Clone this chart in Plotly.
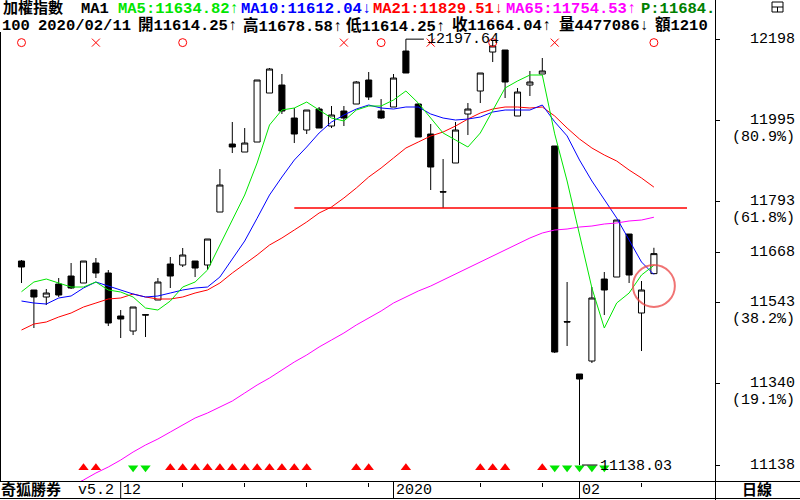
import plotly.graph_objects as go

W, H = 800, 500

# TAIEX daily candles, 2019-11-20 .. 2020-02-11
dates = [
    "2019-11-20", "2019-11-21", "2019-11-22", "2019-11-25", "2019-11-26", "2019-11-27", "2019-11-28", "2019-11-29",
    "2019-12-02", "2019-12-03", "2019-12-04", "2019-12-05", "2019-12-06", "2019-12-09", "2019-12-10", "2019-12-11",
    "2019-12-12", "2019-12-13", "2019-12-16", "2019-12-17", "2019-12-18", "2019-12-19", "2019-12-20", "2019-12-23",
    "2019-12-24", "2019-12-25", "2019-12-26", "2019-12-27", "2019-12-30", "2019-12-31",
    "2020-01-02", "2020-01-03", "2020-01-06", "2020-01-07", "2020-01-08", "2020-01-09", "2020-01-10", "2020-01-13",
    "2020-01-14", "2020-01-15", "2020-01-16", "2020-01-17", "2020-01-20", "2020-01-30", "2020-01-31",
    "2020-02-03", "2020-02-04", "2020-02-05", "2020-02-06", "2020-02-07", "2020-02-10", "2020-02-11",
]
opens = [
    11645.6, 11573.5, 11556.1, 11588.4, 11608.3, 11590.9, 11640.7, 11615.8, 11508.8, 11471.5,
    11512.0, 11548.6, 11638.2, 11635.7, 11645.6, 11635.7, 11767.5, 11936.7, 11916.8, 11941.7,
    12063.6, 12083.5, 12001.4, 11971.6, 12023.8, 11981.5, 12018.8, 12036.2, 12096.0, 12018.8,
    12028.8, 12168.1, 12036.2, 11961.6, 11818.0, 11889.5, 12011.4, 12068.6, 12165.6, 12170.6,
    12006.4, 12083.5, 12110.9, 11931.8, 11495.0, 11364.5, 11396.8, 11600.8, 11605.8, 11712.8,
    11516.3, 11614.25,
]
highs = [
    11648.1, 11573.5, 11576.0, 11603.3, 11640.7, 11645.6, 11653.1, 11623.2, 11523.7, 11531.2,
    11512.0, 11603.3, 11655.6, 11678.0, 11645.6, 11700.4, 11874.5, 11991.5, 11976.5, 12096.0,
    12125.8, 12110.9, 12026.3, 12021.3, 12028.8, 12031.3, 12031.3, 12093.5, 12115.9, 12048.7,
    12110.9, 12197.64, 12038.7, 11986.5, 11899.4, 11991.5, 12038.7, 12113.4, 12195.5, 12170.6,
    12076.1, 12118.4, 12150.7, 11931.8, 11593.4, 11364.5, 11580.9, 11618.3, 11747.6, 11712.8,
    11595.9, 11678.58,
]
lows = [
    11590.9, 11478.9, 11536.2, 11556.1, 11576.0, 11590.9, 11603.3, 11483.9, 11454.1, 11461.5,
    11456.5, 11548.6, 11578.5, 11630.7, 11605.8, 11623.2, 11767.5, 11914.3, 11916.8, 11941.7,
    12063.6, 12011.4, 11939.2, 11961.6, 11976.5, 11976.5, 11981.5, 12036.2, 12046.2, 11998.9,
    12028.8, 12113.4, 11954.1, 11822.3, 11777.5, 11889.5, 11959.1, 12038.7, 12140.7, 12051.2,
    12006.4, 12056.2, 12110.9, 11416.7, 11434.2, 11138.03, 11391.9, 11511.3, 11605.8, 11590.9,
    11421.7, 11614.25,
]
closes = [
    11630.7, 11556.1, 11566.0, 11561.0, 11578.5, 11645.6, 11615.8, 11491.4, 11501.3, 11531.2,
    11511.3, 11593.4, 11608.3, 11660.6, 11628.2, 11700.4, 11834.7, 11929.3, 11939.2, 12096.0,
    12123.3, 12018.8, 11961.6, 12021.3, 11976.5, 12008.9, 12001.4, 12091.0, 12053.7, 12001.4,
    12100.9, 12113.4, 11954.1, 11879.5, 11817.3, 11971.6, 12023.8, 12113.4, 12180.6, 12091.0,
    12066.1, 12091.0, 12118.4, 11419.2, 11493.9, 11352.0, 11553.6, 11573.5, 11747.6, 11610.8,
    11573.5, 11664.04,
]

# moving averages as drawn on the chart
ma5 = [
    11569.3, 11593.4, 11600.8, 11590.9, 11580.9, 11580.9, 11593.4, 11573.5, 11568.5, 11556.1,
    11528.7, 11523.7, 11546.1, 11580.9, 11593.4, 11623.2, 11685.4, 11747.6, 11809.8, 11889.5,
    11984.0, 12021.3, 12026.3, 12041.2, 12021.3, 12001.4, 11994.0, 12021.3, 12031.3, 12031.3,
    12046.2, 12068.6, 12038.7, 12001.4, 11964.1, 11946.7, 11929.3, 11964.1, 12021.3, 12076.1,
    12093.5, 12108.4, 12108.4, 11962.0, 11844.7, 11707.8, 11578.5, 11478.9, 11541.1, 11566.0,
    11610.8, 11634.82,
]
ma10 = [
    11546.1, 11541.1, 11538.6, 11553.6, 11558.6, 11578.5, 11593.4, 11583.4, 11573.5, 11563.5,
    11556.1, 11558.6, 11566.0, 11573.5, 11578.5, 11580.9, 11605.8, 11650.6, 11695.4, 11752.0,
    11809.8, 11854.6, 11896.9, 11929.3, 11964.1, 11991.5, 12008.9, 12023.8, 12033.8, 12026.3,
    12023.8, 12028.8, 12028.8, 12011.4, 12001.4, 11996.4, 11998.9, 12003.9, 12016.3, 12021.3,
    12021.3, 12021.3, 12033.8, 11992.0, 11956.9, 11896.9, 11844.7, 11797.4, 11752.6, 11697.9,
    11643.1, 11612.04,
]
ma21 = [
    11474.0, 11488.9, 11493.9, 11506.3, 11516.3, 11531.2, 11541.1, 11551.1, 11553.6, 11563.5,
    11556.1, 11551.1, 11551.1, 11556.1, 11566.0, 11573.5, 11590.9, 11615.8, 11638.2, 11660.6,
    11685.4, 11702.9, 11722.8, 11742.7, 11765.1, 11780.0, 11802.4, 11827.3, 11854.6, 11877.0,
    11901.9, 11926.8, 11941.7, 11956.6, 11966.6, 11981.5, 11998.9, 12013.9, 12023.8, 12028.8,
    12028.8, 12026.3, 12028.8, 12006.4, 11976.5, 11949.2, 11926.8, 11909.4, 11894.4, 11872.0,
    11852.1, 11829.51,
]
ma65 = [
    None, None, None, 11070.9, 11085.8, 11100.8, 11118.2, 11133.1, 11150.5, 11170.4,
    11187.8, 11202.8, 11220.2, 11237.6, 11255.0, 11267.5, 11282.4, 11297.3, 11317.2, 11337.1,
    11354.5, 11374.4, 11394.3, 11411.8, 11431.7, 11449.1, 11466.5, 11486.4, 11503.8, 11521.2,
    11541.1, 11556.1, 11571.0, 11583.4, 11598.4, 11613.3, 11628.2, 11643.1, 11658.1, 11673.0,
    11687.9, 11702.9, 11715.3, 11722.8, 11725.2, 11730.2, 11732.7, 11737.7, 11740.2, 11745.2,
    11747.6, 11754.53,
]

# signal marks (top row: o / x, bottom row: red up / green down)
sig_o = ["2019-11-20", "2019-12-09", "2019-12-31", "2020-01-14", "2020-02-11"]
sig_x = ["2019-11-28", "2019-12-26", "2020-01-07", "2020-01-30"]
sig_up = ["2019-11-27", "2019-11-28", "2019-12-06", "2019-12-09", "2019-12-10", "2019-12-11", "2019-12-12",
          "2019-12-13", "2019-12-16", "2019-12-17", "2019-12-18", "2019-12-19", "2019-12-20", "2019-12-23",
          "2019-12-27", "2019-12-30", "2020-01-03", "2020-01-13", "2020-01-14", "2020-01-15", "2020-01-20"]
sig_down = ["2019-12-03", "2019-12-04", "2020-01-30", "2020-01-31", "2020-02-03", "2020-02-04", "2020-02-05"]

# axis labels
week_ticks = ["2019-12-09", "2019-12-16", "2019-12-23", "2019-12-30", "2020-01-13", "2020-01-20", "2020-02-10"]
month_starts = ["2019-12-02", "2020-01-02", "2020-02-03"]
month_labels = ["12", "2020", "02"]
fib_levels = [12198, 11995, 11793, 11668, 11543, 11340, 11138]
fib_pcts = ["", "(80.9%)", "(61.8%)", "", "(38.2%)", "(19.1%)", ""]

MONO = "Liberation Mono, DejaVu Sans Mono, Noto Sans CJK TC, monospace"
GREEN = "#00e600"

# layout constants (pixel geometry of the reference)
Y_TOP, Y_BOT = 12212.93, 11097.06
X_LO, X_HI = -1.653, 55.927
TOP_MARK = 12189.0
BOT_MARK = 11131.0


def px(x):
    return x / W


def py(y):
    return 1 - y / H


fig = go.Figure()

fig.add_trace(go.Candlestick(
    x=dates, open=opens, high=highs, low=lows, close=closes,
    increasing=dict(line=dict(color="black", width=1), fillcolor="white"),
    decreasing=dict(line=dict(color="black", width=1), fillcolor="black"),
    whiskerwidth=0, hoverinfo="skip", showlegend=False,
))

for ys, col in [(ma65, "#ff00ff"), (ma21, "#ff0000"), (ma10, "#0000ff"), (ma5, GREEN)]:
    fig.add_trace(go.Scatter(x=dates, y=ys, mode="lines", line=dict(color=col, width=1),
                             hoverinfo="skip", showlegend=False))

fig.add_trace(go.Scatter(x=sig_o, y=[TOP_MARK] * len(sig_o), mode="markers",
                         marker=dict(symbol="circle-open", size=8, color="#ff0000", line=dict(width=1)),
                         hoverinfo="skip", showlegend=False))
fig.add_trace(go.Scatter(x=sig_x, y=[TOP_MARK] * len(sig_x), mode="markers",
                         marker=dict(symbol="x-thin-open", size=8, color="#ff0000", line=dict(width=1)),
                         hoverinfo="skip", showlegend=False))
fig.add_trace(go.Scatter(x=sig_up, y=[BOT_MARK] * len(sig_up), mode="markers",
                         marker=dict(symbol="triangle-up", size=9, color="#ff0000", line=dict(width=0)),
                         hoverinfo="skip", showlegend=False))
fig.add_trace(go.Scatter(x=sig_down, y=[BOT_MARK] * len(sig_down), mode="markers",
                         marker=dict(symbol="triangle-down", size=9, color=GREEN, line=dict(width=0)),
                         hoverinfo="skip", showlegend=False))

shapes = []
line_k = dict(color="black", width=1)
# frame lines
shapes.append(dict(type="line", xref="paper", yref="paper", x0=px(0.5), x1=px(0.5), y0=py(481.5), y1=py(32), line=line_k))
shapes.append(dict(type="line", xref="paper", yref="paper", x0=px(715.5), x1=px(715.5), y0=0, y1=1, line=line_k))
shapes.append(dict(type="line", xref="paper", yref="paper", x0=0, x1=1, y0=py(481.5), y1=py(481.5), line=line_k))
shapes.append(dict(type="line", xref="paper", yref="paper", x0=0, x1=1, y0=py(498.5), y1=py(498.5), line=line_k))
# month separators in the date row
for d in month_starts:
    shapes.append(dict(type="line", xref="x", yref="paper", x0=dates.index(d), x1=dates.index(d),
                       y0=py(498.5), y1=py(481.5), line=line_k))
# small window icon top right
shapes.append(dict(type="rect", xref="paper", yref="paper", x0=px(772), x1=px(783), y0=py(12), y1=py(2),
                   line=line_k, fillcolor="white"))
shapes.append(dict(type="line", xref="paper", yref="paper", x0=px(772), x1=px(783), y0=py(7), y1=py(7), line=line_k))
shapes.append(dict(type="line", xref="paper", yref="paper", x0=px(777.5), x1=px(777.5), y0=py(7), y1=py(12), line=line_k))

# support line drawn at the 2020-01-08 low
i_sup = dates.index("2020-01-08")
support = lows[i_sup]
shapes.append(dict(type="line", xref="x", yref="y", x0=dates.index("2019-12-20"), x1=53.67,
                   y0=support, y1=support, line=dict(color="#ff0000", width=1.3)))
# highlight circle around the last candle
i_last = len(dates) - 1
shapes.append(dict(type="circle", xref="x", yref="y", x0=i_last - 1.69, x1=i_last + 1.69,
                   y0=11583.5 - 52.2, y1=11583.5 + 52.2, line=dict(color="rgba(235,70,70,0.75)", width=2)))
# high / low leaders
i_hi = highs.index(max(highs))
i_lo = lows.index(min(lows))
shapes.append(dict(type="line", xref="x", yref="y", x0=i_hi, x1=i_hi + 1.45, y0=max(highs), y1=max(highs), line=line_k))
shapes.append(dict(type="line", xref="x", yref="y", x0=i_lo + 0.2, x1=i_lo + 1.45, y0=min(lows), y1=min(lows), line=line_k))

ann = []


def text(t, x, y, color="black", size=15.5, xanchor="left", bold=False, **kw):
    if bold:
        t = f"<b>{t}</b>"
    d = dict(text=t, x=x, y=y, showarrow=False, xanchor=xanchor, yanchor="middle",
             font=dict(family=MONO, size=size, color=color), xref=kw.pop("xref", "paper"),
             yref=kw.pop("yref", "paper"), borderpad=0)
    d.update(kw)
    ann.append(d)


# header line 1
text("加權指數", px(2), py(8.5), size=15, bold=True)
text("MA1", px(80), py(8.5), bold=True)
text("MA5:11634.82↑", px(117), py(8.5), color=GREEN, bold=True)
text("MA10:11612.04↓", px(240), py(8.5), color="#0000ff", bold=True)
text("MA21:11829.51↓", px(372), py(8.5), color="#ff0000", bold=True)
text("MA65:11754.53↑", px(505), py(8.5), color="#ff00ff", bold=True)
text("P:11684.", px(640), py(8.5), color="#008000", bold=True)
# header line 2
for t, x in [("100", 1), ("2020/02/11", 37), ("開11614.25↑", 137), ("高11678.58↑", 242),
             ("低11614.25↑", 345), ("收11664.04↑", 451), ("量4477086↓", 558), ("額1210", 654)]:
    text(t, px(x), py(25.5), bold=True)

# price axis labels (fibonacci levels of the swing)
for lvl, pct in zip(fib_levels, fib_pcts):
    text(str(lvl), px(796), lvl, size=15, xanchor="right", yref="y")
    if pct:
        text(pct, px(796), lvl, size=15, xanchor="right", yref="y", yshift=-17)

# high / low values
text(f"{max(highs):.2f}", i_hi + 1.6, max(highs), size=15, xref="x", yref="y")
text(f"{min(lows):.2f}", i_lo + 1.6, min(lows), size=15, xref="x", yref="y", yshift=-1)

# date row
for d, lab in zip(month_starts, month_labels):
    text(lab, dates.index(d), py(490), size=15, xref="x", xshift=1)
text("奇狐勝券", px(0), py(490), size=15, bold=True)
text("v5.2", px(77), py(490), size=15)
text("日線", px(757), py(490), size=15, xanchor="center", bold=True)

fig.update_layout(
    width=W, height=H,
    margin=dict(l=0, r=0, t=0, b=0),
    paper_bgcolor="white", plot_bgcolor="white",
    showlegend=False,
    shapes=shapes, annotations=ann,
    xaxis=dict(type="category", domain=[px(1), px(715)], range=[X_LO, X_HI],
               rangeslider=dict(visible=False), showgrid=False, zeroline=False,
               showline=False, ticks="outside", ticklen=4, tickcolor="black",
               tickvals=week_ticks, showticklabels=False, fixedrange=True),
    yaxis=dict(domain=[py(481.5), py(33)], range=[Y_BOT, Y_TOP], side="right",
               showgrid=False, zeroline=False, showline=False, ticks="outside",
               ticklen=4, tickcolor="black", tickvals=fib_levels, showticklabels=False,
               fixedrange=True),
)

# the page body has a default 8px margin; drop it so the figure sits at 0,0
fig.write_html("out.html", config={"displayModeBar": False},
               post_script="document.body.style.margin='0';document.body.style.overflow='hidden';")
